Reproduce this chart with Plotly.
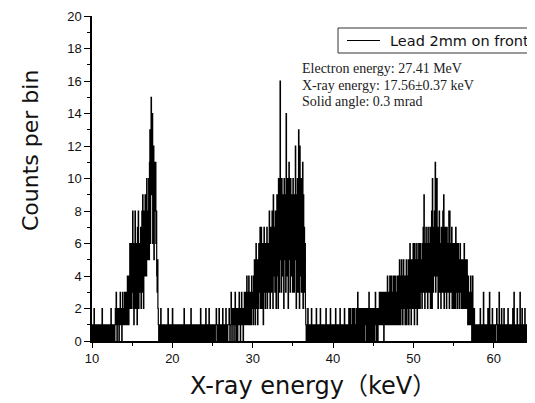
import numpy as np
import plotly.graph_objects as go

# ---- data: counts per 0.05 keV bin (one row = 1 keV) ----
bin_start = 10.0
bin_width = 0.05

counts_10_14 = [
    [1,0,1,1,0,2,1,0,1,1, 0,1,0,1,1,0,1,1,0,1],
    [0,1,1,0,1,2,0,1,1,0, 1,0,1,1,0,1,0,1,1,0],
    [1,1,0,1,0,1,1,2,0,1, 1,0,1,0,1,1,0,1,2,1],
    [3,1,0,2,1,1,2,0,1,2, 3,1,2,1,0,2,3,1,2,1],
]
counts_peak1 = [
    [2,3,1,2,1,3,2,1,4,2, 3,1,4,2,6,3,4,2,6,3],
    [4,8,2,5,1,6,3,8,2,5, 4,6,1,7,3,8,2,5,3,6],
    [4,7,2,6,8,3,9,5,2,8, 6,4,9,5,7,4,10,6,8,5],
    [7,10,5,11,13,6,11,15,9,11, 14,6,10,12,5,11,9,8,11,6],
    [8,4,3,5,2,1,0,1,1,0, 1,2,0,1,1,0,1,0,1,1],
]
counts_19_28 = [
    [1,0,1,1,0,1,0,1,1,2, 0,1,1,0,1,0,1,1,0,1],
    [2,1,0,1,1,0,1,0,1,1, 0,1,1,0,1,1,0,1,0,1],
    [1,0,1,1,0,1,1,0,1,2, 0,1,0,1,1,0,1,1,0,1],
    [1,1,0,1,0,1,2,0,1,1, 0,1,0,1,1,0,1,0,1,1],
    [0,1,1,0,1,0,1,1,0,1, 2,0,1,1,0,1,1,0,1,0],
    [1,1,0,2,1,0,1,1,0,1, 0,2,1,1,0,1,0,1,1,0],
    [1,0,1,1,0,1,0,1,1,2, 1,0,1,0,1,1,2,0,1,1],
    [0,1,1,0,1,2,1,0,1,1, 0,1,1,2,0,1,1,0,1,1],
    [1,2,1,0,1,1,3,1,0,1, 2,1,1,0,2,1,3,1,0,2],
]
counts_peak2 = [
    [1,2,0,1,2,1,3,1,2,0, 1,2,3,1,2,1,0,2,1,3],
    [2,1,3,1,2,4,1,3,2,1, 4,2,3,1,2,3,1,4,2,3],
    [3,1,4,2,5,3,1,4,6,2, 3,5,1,4,2,6,3,5,7,2],
    [4,7,2,5,3,6,1,4,7,3, 5,2,6,4,3,7,2,5,4,6],
    [3,8,5,2,7,4,6,3,8,5, 2,9,6,4,7,3,8,5,2,6],
    [9,4,7,2,10,6,3,9,16,5, 8,3,10,6,9,4,8,2,10,7],
    [5,9,3,14,8,4,10,6,2,9, 11,5,8,3,10,7,4,9,6,3],
    [10,4,8,3,9,5,12,6,2,9, 4,10,3,8,13,5,2,12,7,4],
    [10,3,8,5,11,2,9,4,7,3, 6,2,1,0,1,1,0,2,1,0],
]
counts_37_46 = [
    [1,0,1,1,0,1,2,0,1,1, 0,1,1,0,1,0,1,1,2,0],
    [1,1,0,1,0,1,1,0,2,1, 0,1,1,0,1,1,0,1,0,1],
    [1,0,2,1,0,1,1,0,1,1, 0,1,0,2,1,1,0,1,1,0],
    [1,1,0,1,0,1,2,1,0,1, 1,0,1,1,0,1,0,2,1,1],
    [0,1,1,0,1,1,0,1,2,0, 1,1,0,1,0,1,1,0,1,2],
    [1,0,1,2,0,1,1,0,2,1, 0,1,2,1,0,1,1,2,0,1],
    [1,3,0,1,2,1,0,2,1,1, 0,2,1,0,1,2,1,0,2,1],
    [1,2,0,1,2,1,0,2,1,3, 0,1,2,1,0,2,1,2,0,1],
    [2,1,0,2,1,3,1,0,2,1, 2,0,1,2,1,3,2,1,3,2],
]
counts_peak3 = [
    [1,3,2,1,3,2,0,3,1,2, 3,1,2,3,1,4,2,3,1,3],
    [2,4,1,3,2,4,1,3,2,1, 4,2,3,1,4,2,3,1,2,4],
    [1,4,2,3,1,5,2,4,1,3, 5,2,4,1,3,5,2,4,3,1],
    [4,2,5,1,3,4,2,5,1,4, 3,6,2,5,1,4,3,5,2,6],
    [3,5,1,6,4,2,5,3,6,1, 4,5,2,6,3,5,2,6,4,3],
    [5,2,6,4,7,3,9,5,2,6, 4,7,3,5,6,2,7,4,6,3],
    [5,7,2,6,4,8,2,10,5,3, 7,4,8,6,11,3,7,5,10,4],
    [6,2,7,4,8,3,6,5,2,7, 4,6,3,8,5,9,2,6,4,7],
    [3,6,2,7,4,5,3,6,8,2, 8,4,6,3,5,7,2,6,4,5],
    [2,6,4,5,2,7,3,5,6,2, 4,6,3,5,2,4,6,3,5,2],
    [4,2,5,3,2,4,6,3,2,5, 3,4,2,5,3,1,4,2,3,1],
    [3,2,4,1,3,0,2,4,1,0, 1,2,0,1,1,0,1,1,0,1],
]
counts_58_65 = [
    [1,0,1,1,0,1,2,1,0,1, 1,0,1,0,3,1,1,0,1,1],
    [0,1,1,0,1,2,1,0,1,3, 1,0,1,1,0,1,2,1,0,1],
    [1,0,1,1,0,1,1,2,1,0, 1,1,0,3,1,0,1,1,0,2],
    [1,0,1,1,0,2,1,0,1,1, 0,1,1,0,1,2,1,0,1,1],
    [0,1,1,0,1,1,0,2,1,0, 3,1,1,0,1,0,1,1,2,0],
    [1,1,0,1,0,3,1,1,0,1, 2,1,0,1,1,0,1,2,1,0],
    [1,0,1,1,0,2,1,0,3,1, 1,0,1,0,1,1,2,0,1,1],
]

legend_name = "Lead 2mm on front"
info_lines = ["Electron energy: 27.41 MeV",
              "X-ray energy: 17.56\u00b10.37 keV",
              "Solid angle: 0.3 mrad"]

segments = [counts_10_14, counts_peak1, counts_19_28, counts_peak2,
            counts_37_46, counts_peak3, counts_58_65]
counts = [v for seg in segments for row in seg for v in row]
n = len(counts)
edges = bin_start + bin_width * np.arange(n + 1)
yvals = counts + [counts[-1]]

# ---- layout geometry (screen pixels; page body has an 8px offset) ----
OFF = 8
WIN_W, WIN_H = 535, 403
PL, PR, PT, PB = 92, 534, 16, 341          # plot area on screen
W, H = WIN_W - OFF, WIN_H - OFF
L, R, T, B = PL - OFF, WIN_W - PR, PT - OFF, WIN_H - PB
PW, PH = PR - PL, PB - PT

def px(x):
    return (x - PL) / PW

def py(y):
    return (PB - y) / PH

fig = go.Figure()
fig.add_trace(go.Scatter(x=edges, y=yvals, mode="lines", name=legend_name,
                         line=dict(color="black", width=1.2, shape="hv"),
                         showlegend=False, hoverinfo="skip"))

tick_font = dict(family="Liberation Sans, Arial", size=13, color="#111")
fig.update_layout(
    width=W, height=H,
    margin=dict(l=L, r=R, t=T, b=B, autoexpand=False),
    paper_bgcolor="white", plot_bgcolor="white",
    xaxis=dict(range=[10, 65], tick0=10, dtick=10, showgrid=False, zeroline=False,
               showline=True, linecolor="black", linewidth=1.5,
               ticks="outside", ticklen=5, tickwidth=1.2, tickcolor="black",
               minor=dict(dtick=5, ticks="outside", ticklen=3, tickcolor="black", tickwidth=1.2),
               tickfont=tick_font),
    yaxis=dict(range=[0, 20], tick0=0, dtick=2, showgrid=False, zeroline=False,
               showline=True, linecolor="black", linewidth=1.5,
               ticks="outside", ticklen=6, tickwidth=1.2, tickcolor="black",
               minor=dict(dtick=1, ticks="outside", ticklen=3, tickcolor="black", tickwidth=1.2),
               tickfont=tick_font),
)

# legend box drawn manually (extends past the right edge like the original)
fig.add_shape(type="rect", xref="paper", yref="paper",
              x0=px(338), x1=px(560), y0=py(53), y1=py(28),
              line=dict(color="#333", width=1), fillcolor="white", layer="above")
fig.add_shape(type="line", xref="paper", yref="paper",
              x0=px(347), x1=px(380), y0=py(40.5), y1=py(40.5),
              line=dict(color="black", width=1), layer="above")
fig.add_annotation(x=px(388), y=py(40.5), xref="paper", yref="paper",
                   text=legend_name, showarrow=False, xanchor="left", yanchor="middle",
                   font=dict(family="DejaVu Sans", size=14.5, color="#111"))

for txt, yc in zip(info_lines, [68, 85.5, 101.5]):
    fig.add_annotation(x=px(300), y=py(yc), xref="paper", yref="paper",
                       text=txt, showarrow=False, xanchor="left", yanchor="middle",
                       font=dict(family="Liberation Serif, Times New Roman", size=14, color="#222"))

fig.add_annotation(x=px(313), y=py(386), xref="paper", yref="paper",
                   text="X-ray energy\uff08keV\uff09", showarrow=False,
                   xanchor="center", yanchor="middle",
                   font=dict(family="DejaVu Sans, Noto Sans CJK JP", size=24, color="#111"))
fig.add_annotation(x=px(30), y=py(151), xref="paper", yref="paper",
                   text="Counts per bin", showarrow=False, textangle=-90,
                   xanchor="center", yanchor="middle",
                   font=dict(family="DejaVu Sans", size=22, color="#111"))

fig.write_html("out.html")
